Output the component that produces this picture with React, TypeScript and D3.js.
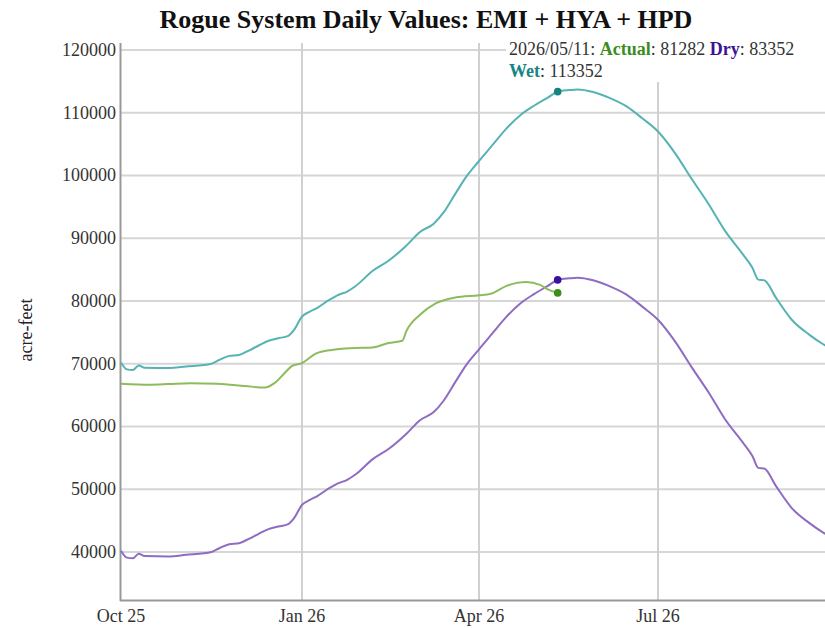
import React, { useEffect, useRef } from 'react';
import * as d3 from 'd3';

// sample dates shared by the Wet and Dry traces
const curveDates = [
  '2025-10-01', '2025-10-04', '2025-10-07', '2025-10-10', '2025-10-13', '2025-10-25',
  '2025-11-03', '2025-11-16', '2025-11-20', '2025-11-25', '2025-11-30', '2025-12-05',
  '2025-12-10', '2025-12-15', '2025-12-20', '2025-12-25', '2025-12-28', '2026-01-01',
  '2026-01-05', '2026-01-09', '2026-01-14', '2026-01-19', '2026-01-24', '2026-01-28',
  '2026-02-06', '2026-02-14', '2026-02-23', '2026-03-02', '2026-03-09', '2026-03-14',
  '2026-03-20', '2026-03-26', '2026-04-01', '2026-04-08', '2026-04-15', '2026-04-22',
  '2026-04-29', '2026-05-06', '2026-05-11', '2026-05-17', '2026-05-21', '2026-05-29',
  '2026-06-06', '2026-06-15', '2026-06-23', '2026-07-01', '2026-07-10', '2026-07-18',
  '2026-07-27', '2026-08-04', '2026-08-13', '2026-08-18', '2026-08-21', '2026-08-24',
  '2026-08-30', '2026-09-07', '2026-09-16', '2026-09-23', '2026-09-30',
];

const wetValues = [
  70200, 69100, 69000, 69700, 69350, 69300,
  69550, 70000, 70600, 71250, 71400, 72100,
  72900, 73650, 74050, 74450, 75400, 77500,
  78300, 78950, 80000, 80900, 81500, 82300,
  84800, 86400, 88800, 91000, 92300, 94100,
  97100, 100000, 102300, 104900, 107500, 109600,
  111100, 112400, 113352, 113600, 113700, 113300,
  112400, 111000, 109100, 107000, 103400, 99500,
  95300, 91200, 87500, 85300, 83400, 83300,
  80500, 77000, 74600, 73100, 72000,
];

const dryValues = [
  40200, 39100, 39000, 39700, 39350, 39300,
  39550, 40000, 40600, 41250, 41400, 42100,
  42900, 43650, 44050, 44450, 45400, 47500,
  48300, 48950, 50000, 50900, 51500, 52300,
  54800, 56400, 58800, 61000, 62300, 64100,
  67100, 70000, 72300, 74900, 77500, 79600,
  81100, 82400, 83352, 83600, 83700, 83300,
  82400, 81000, 79100, 77000, 73400, 69500,
  65300, 61200, 57500, 55300, 53400, 53300,
  50500, 47000, 44600, 43100, 42000,
];

const actualDates = [
  '2025-10-01', '2025-10-16', '2025-10-25', '2025-11-05', '2025-11-19', '2025-12-03',
  '2025-12-13', '2025-12-18', '2025-12-23', '2025-12-27', '2026-01-01', '2026-01-08',
  '2026-01-16', '2026-01-28', '2026-02-06', '2026-02-14', '2026-02-21', '2026-02-23',
  '2026-03-02', '2026-03-10', '2026-03-20', '2026-04-01', '2026-04-07', '2026-04-15',
  '2026-04-25', '2026-05-02', '2026-05-06', '2026-05-11',
];

const actualValues = [
  66800, 66650, 66750, 66900, 66800, 66450,
  66200, 66900, 68450, 69650, 70100, 71600,
  72200, 72500, 72600, 73300, 73650, 75150,
  77800, 79600, 80550, 80900, 81150, 82400,
  83000, 82550, 81850, 81282,
];

const yTicks = [40000, 50000, 60000, 70000, 80000, 90000, 100000, 110000, 120000];
const xTickDates = ['2025-10-01', '2026-01-01', '2026-04-01', '2026-07-01'];
const xTickLabels = ['Oct 25', 'Jan 26', 'Apr 26', 'Jul 26'];
const markerDate = '2026-05-11';

const SERIF = 'Liberation Serif, Times New Roman, serif';

const RogueChart: React.FC = () => {
  const svgRef = useRef<SVGSVGElement>(null);
  const width = 825;
  const height = 628;

  useEffect(() => {
    if (!svgRef.current) return;
    const svg = d3.select(svgRef.current);
    svg.selectAll('*').remove();

    const parse = d3.timeParse('%Y-%m-%d');
    const x = d3.scaleTime()
      .domain([parse('2025-10-01')!, parse('2026-09-30')!])
      .range([121, 837]);
    const y = d3.scaleLinear().domain([32350, 121100]).range([600, 43]);

    // grid
    const grid = svg.append('g');
    grid.selectAll('.hgrid')
      .data(yTicks)
      .enter()
      .append('line')
      .attr('x1', 121).attr('x2', 837)
      .attr('y1', d => y(d)).attr('y2', d => y(d))
      .style('stroke', '#d6d6d6')
      .style('stroke-width', 2);
    grid.selectAll('.vgrid')
      .data(xTickDates.slice(1))
      .enter()
      .append('line')
      .attr('x1', d => x(parse(d)!)).attr('x2', d => x(parse(d)!))
      .attr('y1', 43).attr('y2', 600)
      .style('stroke', '#d0d0d0')
      .style('stroke-width', 2);

    // axes
    svg.append('line')
      .attr('x1', 120.5).attr('x2', 120.5).attr('y1', 43).attr('y2', 601)
      .style('stroke', '#999').style('stroke-width', 2);
    svg.append('line')
      .attr('x1', 120).attr('x2', 837).attr('y1', 600.5).attr('y2', 600.5)
      .style('stroke', '#999').style('stroke-width', 2);

    svg.selectAll('.ytick')
      .data(yTicks)
      .enter()
      .append('text')
      .attr('x', 116)
      .attr('y', d => y(d) + 6)
      .attr('text-anchor', 'end')
      .attr('font-family', SERIF)
      .attr('font-size', 18)
      .attr('fill', '#333')
      .text(d => String(d));

    svg.selectAll('.xtick')
      .data(xTickDates)
      .enter()
      .append('text')
      .attr('x', d => x(parse(d)!))
      .attr('y', 622)
      .attr('text-anchor', 'middle')
      .attr('font-family', SERIF)
      .attr('font-size', 18)
      .attr('fill', '#333')
      .text((d, i) => xTickLabels[i]);

    svg.append('text')
      .attr('transform', 'translate(32, 330) rotate(-90)')
      .attr('text-anchor', 'middle')
      .attr('font-family', SERIF)
      .attr('font-size', 18)
      .attr('fill', '#222')
      .text('acre-feet');

    svg.append('text')
      .attr('x', 426)
      .attr('y', 28)
      .attr('text-anchor', 'middle')
      .attr('font-family', SERIF)
      .attr('font-size', 26)
      .attr('font-weight', 'bold')
      .attr('fill', '#111')
      .text('Rogue System Daily Values: EMI + HYA + HPD');

    // lines
    const line = d3.line<[Date, number]>()
      .x(d => x(d[0]))
      .y(d => y(d[1]))
      .curve(d3.curveMonotoneX);

    const series = [
      { dates: curveDates, values: wetValues, color: '#56b3b3', dot: '#138383' },
      { dates: curveDates, values: dryValues, color: '#8e6cc2', dot: '#3b0f99' },
      { dates: actualDates, values: actualValues, color: '#8cbc5c', dot: '#3d8c1e' },
    ];

    series.forEach(s => {
      const pts = s.dates.map((d, i) => [parse(d)!, s.values[i]] as [Date, number]);
      svg.append('path')
        .attr('d', line(pts))
        .style('fill', 'none')
        .style('stroke', s.color)
        .style('stroke-width', 2);
    });

    series.forEach(s => {
      const i = s.dates.indexOf(markerDate);
      svg.append('circle')
        .attr('cx', x(parse(markerDate)!))
        .attr('cy', y(s.values[i]))
        .attr('r', 3.8)
        .style('fill', s.dot);
    });

    // hover readout
    const wetNow = wetValues[curveDates.indexOf(markerDate)];
    const dryNow = dryValues[curveDates.indexOf(markerDate)];
    const actualNow = actualValues[actualDates.indexOf(markerDate)];

    svg.append('rect')
      .attr('x', 506).attr('y', 36).attr('width', 330).attr('height', 46)
      .style('fill', '#fff');

    const t1 = svg.append('text')
      .attr('x', 509).attr('y', 55)
      .attr('font-family', SERIF).attr('font-size', 18).attr('fill', '#333');
    t1.append('tspan').text(markerDate.replace(/-/g, '/') + ': ');
    t1.append('tspan').attr('font-weight', 'bold').attr('fill', '#3d8c1e').text('Actual');
    t1.append('tspan').text(`: ${actualNow} `);
    t1.append('tspan').attr('font-weight', 'bold').attr('fill', '#3b1494').text('Dry');
    t1.append('tspan').text(`: ${dryNow}`);

    const t2 = svg.append('text')
      .attr('x', 509).attr('y', 77)
      .attr('font-family', SERIF).attr('font-size', 18).attr('fill', '#333');
    t2.append('tspan').attr('font-weight', 'bold').attr('fill', '#178585').text('Wet');
    t2.append('tspan').text(`: ${wetNow}`);
  }, []);

  return (
    <svg
      ref={svgRef}
      width={width}
      height={height}
      fontFamily={SERIF}
      style={{ position: 'absolute', left: 0, top: 0, background: '#fff' }}
    />
  );
};

export default function App() {
  return <RogueChart />;
}
